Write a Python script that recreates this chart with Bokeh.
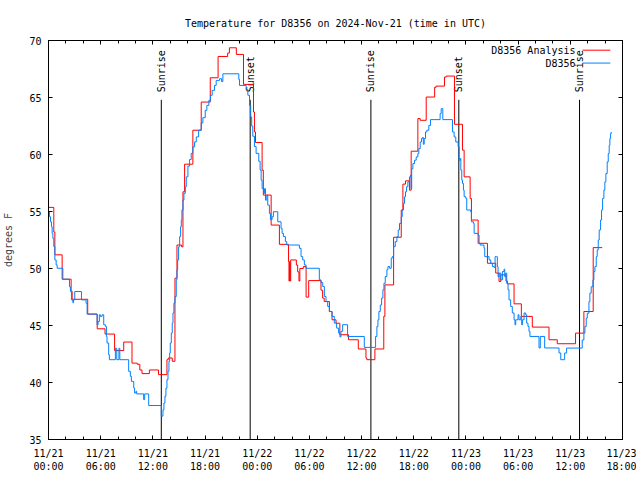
import math
from bokeh.plotting import figure
from bokeh.models import FixedTicker, LinearAxis, Label
from bokeh.core.properties import value
from bokeh.embed import file_html
from bokeh.resources import INLINE

FONT = "DejaVu Sans Mono"
FS = "10px"

chart_title = "Temperature for D8356 on 2024-Nov-21 (time in UTC)"
y_label = "degrees F"
series_names = ["D8356 Analysis", "D8356"]

# hours since 2024-11-21 00:00 UTC
analysis_hours = [
    0.0, 0.61, 0.73, 1.57, 2.6, 2.72, 4.51, 5.6, 6.5, 7.6,
    8.65, 9.6, 10.2, 10.5, 10.75, 11.6, 12.65, 13.62, 13.77, 14.23,
    14.54, 14.77, 15.3, 15.46, 15.65, 16.6, 17.56, 18.6, 19.5, 20.6,
    20.8, 21.6, 22.42, 23.57, 23.68, 23.8, 24.56, 24.7, 25.6, 26.55,
    27.6, 27.65, 27.72, 27.78, 27.85, 28.5, 28.65, 28.8, 28.9, 29.3,
    29.62, 29.92, 31.33, 31.52, 31.7, 32.3, 32.6, 33.06, 33.5, 34.5,
    35.62, 36.5, 36.6, 37.53, 38.55, 38.68, 39.68, 40.56, 40.75, 41.05,
    41.5, 41.7, 42.47, 42.74, 43.43, 44.4, 44.57, 45.53, 45.72, 46.68,
    47.6, 47.79, 48.48, 48.63, 49.4, 50.47, 51.42, 51.8, 52.0, 52.6,
    52.76, 53.53, 54.37, 55.63, 57.55, 58.5, 60.6, 61.56, 62.63, 63.67,
]
analysis_temp = [
    55.36, 53.2, 51.2, 49.06, 48.0, 47.3, 46.0, 44.71, 44.25, 42.8,
    43.55, 41.7, 41.6, 41.1, 40.78, 41.1, 40.69, 42.0, 42.15, 41.86,
    49.15, 52.06, 51.9, 56.73, 59.15, 62.13, 64.6, 66.73, 68.6, 68.9,
    69.36, 68.78, 66.15, 63.73, 61.98, 61.05, 58.63, 56.44, 53.81, 52.12,
    50.6, 48.9, 50.6, 48.9, 50.75, 50.3, 49.7, 48.9, 50.0, 50.17,
    47.49, 48.94, 48.1, 47.4, 47.1, 46.23, 45.5, 45.2, 44.19, 43.75,
    42.94, 42.15, 42.0, 42.94, 45.8, 48.56, 52.74, 55.13, 57.4, 57.69,
    56.87, 60.29, 63.15, 63.0, 65.04, 65.9, 66.0, 66.79, 66.88, 62.65,
    60.38, 58.04, 56.15, 54.25, 52.21, 50.46, 49.6, 48.86, 49.44, 48.9,
    48.65, 46.9, 45.8, 44.86, 43.75, 43.4, 44.33, 46.23, 51.83, 51.83,
]

obs_hours = [
    0.0, 0.11, 0.23, 0.34, 0.42, 0.5, 0.61, 0.73, 0.88, 1.0,
    1.65, 2.41, 2.52, 2.64, 2.8, 2.88, 3.02, 3.79, 4.32, 4.44,
    5.59, 5.7, 5.85, 5.97, 6.16, 6.35, 6.54, 6.66, 6.73, 6.92,
    7.0, 7.69, 7.85, 8.1, 8.2, 9.22, 9.41, 9.53, 9.8, 9.9,
    10.06, 10.14, 10.94, 11.06, 11.52, 12.97, 13.16, 13.27, 13.39, 13.5,
    13.62, 13.74, 13.85, 13.93, 14.0, 14.12, 14.23, 14.31, 14.42, 14.54,
    14.69, 14.77, 14.85, 14.96, 15.08, 15.19, 15.27, 15.34, 15.46, 15.57,
    15.73, 15.84, 16.03, 16.22, 16.41, 16.6, 16.8, 16.99, 17.26, 17.56,
    17.75, 18.02, 18.21, 18.44, 18.63, 18.82, 19.09, 19.28, 19.67, 19.9,
    20.05, 21.88, 21.96, 22.73, 22.92, 23.11, 23.25, 23.36, 23.49, 23.68,
    23.87, 24.18, 24.33, 24.45, 24.56, 24.72, 24.83, 24.95, 25.1, 25.21,
    25.4, 25.52, 25.71, 25.86, 26.36, 26.74, 26.86, 27.01, 27.24, 27.39,
    28.85, 29.04, 29.23, 29.42, 29.61, 31.14, 31.33, 31.53, 31.72, 31.91,
    32.1, 32.29, 32.6, 32.86, 33.13, 33.36, 33.51, 33.63, 33.82, 34.39,
    36.31, 37.61, 37.76, 37.88, 37.99, 38.15, 38.3, 38.45, 38.57, 38.72,
    38.91, 39.03, 39.22, 39.41, 39.52, 39.68, 39.87, 40.06, 40.21, 40.36,
    40.56, 40.67, 40.82, 40.94, 41.05, 41.17, 41.32, 41.51, 41.62, 41.7,
    41.76, 41.9, 42.09, 42.28, 42.47, 42.58, 42.74, 42.89, 43.0, 43.1,
    43.2, 43.35, 43.5, 43.73, 43.92, 45.03, 45.15, 45.34, 46.45, 46.64,
    46.83, 47.1, 47.21, 47.33, 47.41, 47.52, 47.6, 47.71, 47.79, 47.98,
    48.09, 48.55, 48.63, 48.86, 48.94, 49.4, 49.51, 49.63, 50.08, 50.16,
    50.66, 50.85, 51.04, 51.23, 51.35, 51.5, 51.61, 51.69, 51.8, 52.0,
    52.19, 52.38, 52.46, 52.57, 52.69, 52.84, 52.95, 53.14, 53.33, 53.53,
    53.64, 53.72, 53.99, 54.1, 54.3, 54.41, 54.49, 54.68, 54.87, 54.98,
    55.13, 55.25, 55.36, 56.4, 56.55, 57.05, 58.7, 58.9, 59.35, 59.57,
    61.37, 61.56, 61.68, 61.83, 61.95, 62.14, 62.25, 62.4, 62.6, 62.71,
    62.83, 62.98, 63.09, 63.21, 63.32, 63.48, 63.59, 63.71, 63.86, 63.97,
    64.09, 64.24, 64.36, 64.47, 64.55, 64.63, 64.7,
]
obs_temp = [
    54.98, 54.54, 54.1, 53.67, 53.08, 52.65, 51.92, 50.75, 50.31, 50.02,
    49.06, 48.4, 48.0, 47.25, 47.0, 47.25, 47.98, 47.25, 46.95, 46.0,
    45.06, 45.35, 45.94, 45.8, 45.94, 45.06, 44.92, 44.04, 43.46, 42.44,
    42.0, 43.0, 42.0, 43.0, 42.0, 40.98, 40.54, 40.1, 39.52, 39.08,
    39.23, 39.0, 38.5, 39.0, 37.98, 37.05, 37.6, 38.2, 38.8, 39.5,
    40.25, 41.0, 41.86, 42.59, 43.46, 44.34, 45.2, 46.1, 46.96, 47.54,
    49.0, 49.88, 50.75, 51.9, 52.8, 53.67, 54.25, 55.13, 56.0, 56.6,
    57.17, 58.04, 58.98, 59.56, 60.1, 60.67, 61.1, 61.54, 62.13, 62.77,
    63.23, 63.88, 64.31, 64.75, 65.19, 65.63, 66.06, 66.5, 66.65, 66.4,
    67.08, 66.6, 66.06, 65.7, 65.2, 64.3, 63.3, 62.5, 61.6, 60.7,
    60.1, 59.4, 58.63, 57.75, 57.02, 56.58, 57.0, 56.0, 56.44, 55.56,
    54.83, 54.3, 54.54, 54.98, 54.1, 53.52, 53.08, 52.8, 52.36, 52.06,
    51.77, 51.04, 50.75, 50.31, 50.02, 49.0, 48.77, 48.42, 47.54, 47.1,
    46.67, 46.23, 45.8, 45.21, 44.77, 44.34, 44.0, 44.49, 45.07, 44.04,
    43.08, 44.04, 44.92, 45.5, 46.23, 46.8, 47.4, 48.13, 48.7, 49.3,
    49.9, 50.17, 50.02, 50.9, 51.04, 51.92, 52.36, 52.79, 53.38, 53.96,
    54.54, 55.13, 55.7, 56.29, 56.73, 57.17, 57.6, 58.04, 58.19, 57.0,
    58.75, 59.21, 59.5, 59.79, 60.08, 60.52, 61.1, 61.4, 61.49, 60.9,
    61.4, 61.98, 62.13, 62.56, 63.06, 63.58, 64.02, 63.06, 61.98, 61.54,
    61.1, 60.67, 59.5, 59.65, 58.63, 57.75, 57.46, 56.88, 56.3, 56.15,
    55.13, 54.97, 54.1, 53.96, 53.08, 52.94, 52.21, 52.06, 51.77, 51.04,
    50.75, 50.46, 50.17, 50.1, 51.04, 51.04, 50.17, 49.29, 49.6, 49.0,
    49.73, 49.94, 49.29, 49.6, 48.71, 48.13, 47.25, 46.67, 46.1, 45.5,
    45.06, 45.5, 45.94, 45.5, 45.8, 45.06, 45.5, 46.1, 45.94, 45.21,
    44.92, 44.48, 44.04, 43.03, 44.04, 43.03, 42.59, 42.0, 42.59, 43.02,
    43.73, 44.33, 44.92, 45.65, 46.08, 47.1, 47.84, 48.4, 49.0, 49.73,
    50.17, 51.04, 51.63, 52.5, 53.38, 54.25, 55.13, 56.15, 56.88, 57.6,
    58.33, 59.35, 60.08, 60.8, 61.4, 61.83, 61.98,
]

sun_hours = [12.97, 23.19, 37.07, 47.18, 61.06]
sun_labels = ["Sunrise", "Sunset", "Sunrise", "Sunset", "Sunrise"]

x_ticks = [0, 6, 12, 18, 24, 30, 36, 42, 48, 54, 60, 66]
x_tick_labels = [
    "11/21\n00:00", "11/21\n06:00", "11/21\n12:00", "11/21\n18:00",
    "11/22\n00:00", "11/22\n06:00", "11/22\n12:00", "11/22\n18:00",
    "11/23\n00:00", "11/23\n06:00", "11/23\n12:00", "11/23\n18:00",
]
x_minor = list(range(0, 67, 2))
y_ticks = [35, 40, 45, 50, 55, 60, 65, 70]

RED = "#ff0000"
BLUE = "#0080ff"

p = figure(width=636, height=474, output_backend="svg", toolbar_location=None,
           x_range=(0, 66), y_range=(35, 70),
           min_border_left=47, min_border_right=14,
           min_border_top=40, min_border_bottom=34)
p.background_fill_color = "white"
p.border_fill_color = "white"
p.outline_line_color = "black"
p.outline_line_width = 1
p.xgrid.grid_line_color = None
p.ygrid.grid_line_color = None

p.title.text = chart_title
p.title.align = "center"
p.title.text_font = FONT
p.title.text_font_size = FS
p.title.text_font_style = "normal"
p.title.text_color = "black"
p.title.standoff = 23

xt = FixedTicker(ticks=x_ticks, minor_ticks=x_minor)
yt = FixedTicker(ticks=y_ticks, minor_ticks=[])

def style_axis(ax, ticker, labels=True):
    ax.ticker = ticker
    ax.axis_line_color = "black"
    ax.major_tick_line_color = "black"
    ax.minor_tick_line_color = "black"
    ax.major_tick_in = 4
    ax.major_tick_out = 0
    ax.minor_tick_in = 3
    ax.minor_tick_out = 0
    ax.major_label_text_font = FONT
    ax.major_label_text_font_size = FS if labels else "0px"
    ax.major_label_text_color = "black"
    ax.major_label_standoff = 7 if labels else 0

style_axis(p.xaxis[0], xt)
p.xaxis[0].major_label_standoff = 8
p.xaxis[0].major_label_overrides = {t: s for t, s in zip(x_ticks, x_tick_labels)}
style_axis(p.yaxis[0], yt)
p.yaxis[0].axis_label = y_label
p.yaxis[0].axis_label_text_font = FONT
p.yaxis[0].axis_label_text_font_size = FS
p.yaxis[0].axis_label_text_font_style = "normal"
p.yaxis[0].axis_label_standoff = 12

top_ax = LinearAxis()
style_axis(top_ax, xt, labels=False)
top_ax.major_label_overrides = {t: "" for t in x_ticks}
p.add_layout(top_ax, "above")
right_ax = LinearAxis()
style_axis(right_ax, yt, labels=False)
right_ax.major_label_overrides = {t: "" for t in y_ticks}
p.add_layout(right_ax, "right")

# sunrise / sunset markers
p.segment(x0=sun_hours, y0=[35] * len(sun_hours), x1=sun_hours, y1=[64.8] * len(sun_hours),
          line_color="black", line_width=1)
p.text(x=sun_hours, y=[65.45] * len(sun_hours), text=sun_labels, angle=math.pi / 2,
       text_font=value(FONT), text_font_size=FS, text_align="left",
       text_baseline="middle", text_color="black")

# data
p.step(analysis_hours, analysis_temp, mode="after", line_color=RED, line_width=1)
p.step(obs_hours, obs_temp, mode="after", line_color=BLUE, line_width=1)

# gnuplot-style key (text then line sample)
key_text_x = 60.6
key_line_x0, key_line_x1 = 61.4, 64.6
key_rows = [69.15, 68.02]
for name, color, ky in zip(series_names, [RED, BLUE], key_rows):
    p.add_layout(Label(x=key_text_x, y=ky, text=name, text_align="right",
                       text_baseline="middle", text_font=FONT, text_font_size=FS,
                       text_color="black"))
    p.segment(x0=[key_line_x0], y0=[ky], x1=[key_line_x1], y1=[ky],
              line_color=color, line_width=1)

open("out.html", "w").write(file_html(p, INLINE))
